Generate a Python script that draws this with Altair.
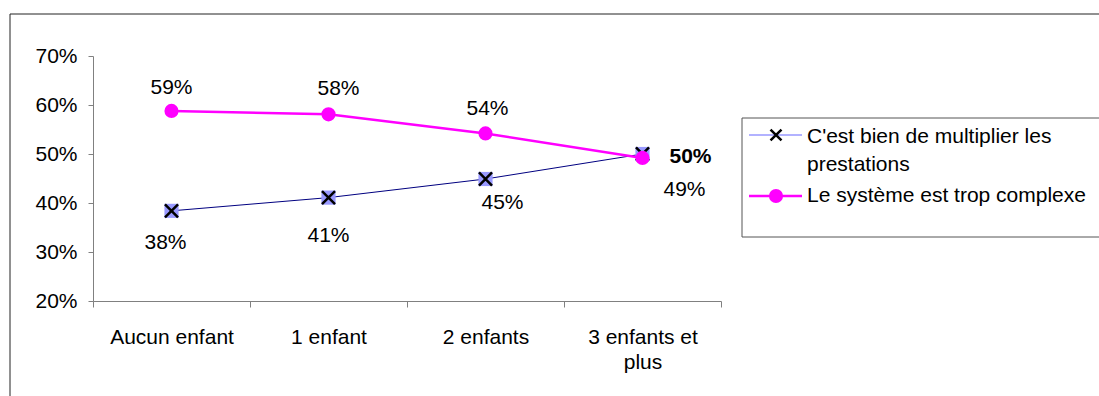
import altair as alt
import pandas as pd

# Categories and survey shares
categories = ["Aucun enfant", "1 enfant", "2 enfants", "3 enfants et plus"]
bien = [0.384, 0.411, 0.449, 0.500]
complexe = [0.588, 0.581, 0.542, 0.492]
series_names = ["C'est bien de multiplier les prestations", "Le système est trop complexe"]
legend_lines = [["C'est bien de multiplier les", "prestations"], ["Le système est trop complexe"]]
y_ticks = [0.2, 0.3, 0.4, 0.5, 0.6, 0.7]

FONT = "Liberation Sans"
FS = 21
BLUE_LINE = "#000080"
BLUE_FILL = "#9999FF"
PINK = "#FF00FF"
X_PATH = "M-1,-1L1,1M-1,1L1,-1"

df_bien = pd.DataFrame({"cat": categories, "val": bien})
df_comp = pd.DataFrame({"cat": categories, "val": complexe})

x_enc = alt.X(
    "cat:N",
    sort=categories,
    scale=alt.Scale(type="band", paddingInner=0, paddingOuter=0),
    axis=alt.Axis(
        title=None,
        tickBand="extent",
        tickSize=6,
        labelPadding=19,
        labelAngle=0,
        labelFontSize=FS,
        labelFont=FONT,
        labelColor="black",
        labelLineHeight=25,
        labelExpr="datum.value == '3 enfants et plus' ? ['3 enfants et', 'plus'] : datum.value",
        domainColor="#808080",
        tickColor="#808080",
        grid=False,
    ),
)
y_enc = alt.Y(
    "val:Q",
    scale=alt.Scale(domain=[0.2, 0.7], nice=False, zero=False),
    axis=alt.Axis(
        title=None,
        values=y_ticks,
        format=".0%",
        tickSize=5,
        labelPadding=11,
        labelFontSize=FS,
        labelFont=FONT,
        labelColor="black",
        domainColor="#808080",
        tickColor="#808080",
        grid=False,
    ),
)

base_b = alt.Chart(df_bien).encode(x=x_enc, y=y_enc)
base_c = alt.Chart(df_comp).encode(x=x_enc, y=y_enc)

line_b = base_b.mark_line(color=BLUE_LINE, strokeWidth=1)
sq_b = base_b.mark_point(shape="square", filled=True, color=BLUE_FILL, size=200, opacity=1)
x_b = base_b.mark_point(shape=X_PATH, filled=False, color="black", strokeWidth=2.5, size=170, opacity=1)

line_c = base_c.mark_line(color=PINK, strokeWidth=2.5)
pt_c = base_c.mark_point(shape="circle", filled=True, color=PINK, size=200, opacity=1)


def value_label(base, cat, dx, dy, bold=False):
    return base.transform_filter(alt.datum.cat == cat).mark_text(
        font=FONT, fontSize=FS, color="black", dx=dx, dy=dy,
        fontWeight="bold" if bold else "normal",
    ).encode(text=alt.Text("val:Q", format=".0%"))


labels = [
    value_label(base_b, "Aucun enfant", -6, 32),
    value_label(base_b, "1 enfant", 0, 38),
    value_label(base_b, "2 enfants", 17, 24),
    value_label(base_b, "3 enfants et plus", 48, 3, bold=True),
    value_label(base_c, "Aucun enfant", 0, -23),
    value_label(base_c, "1 enfant", 10, -25),
    value_label(base_c, "2 enfants", 2, -24),
    value_label(base_c, "3 enfants et plus", 42, 32),
]

one = pd.DataFrame({"k": [0]})

# Outer frame around the whole figure
frame = alt.Chart(one).mark_rect(fill="transparent", stroke="#222222", strokeWidth=1).encode(
    x=alt.value(-83), x2=alt.value(1200), y=alt.value(-42), y2=alt.value(600)
)

# Legend box and entries
leg_box = alt.Chart(one).mark_rect(fill="white", stroke="#555555", strokeWidth=1).encode(
    x=alt.value(649), x2=alt.value(1020), y=alt.value(62), y2=alt.value(181)
)
leg_line_b = alt.Chart(one).mark_rule(color=BLUE_FILL, strokeWidth=1.5).encode(
    x=alt.value(656), x2=alt.value(709), y=alt.value(79)
)
leg_x_b = alt.Chart(one).mark_point(shape=X_PATH, filled=False, color="black", strokeWidth=2.5, size=120, opacity=1).encode(
    x=alt.value(683), y=alt.value(79)
)
leg_line_c = alt.Chart(one).mark_rule(color=PINK, strokeWidth=2.5).encode(
    x=alt.value(656), x2=alt.value(709), y=alt.value(140)
)
leg_pt_c = alt.Chart(one).mark_point(shape="circle", filled=True, color=PINK, size=200, opacity=1).encode(
    x=alt.value(683), y=alt.value(140)
)
leg_df = pd.DataFrame({"t": [legend_lines[0][0], legend_lines[0][1], legend_lines[1][0]],
                       "yy": [81, 109, 140]})
leg_text = alt.Chart(leg_df).mark_text(font=FONT, fontSize=FS, color="black", align="left", baseline="middle").encode(
    x=alt.value(714), y=alt.Y("yy:Q", scale=None), text="t:N"
)

chart = alt.layer(
    frame, line_b, sq_b, x_b, line_c, pt_c, *labels,
    leg_box, leg_line_b, leg_x_b, leg_line_c, leg_pt_c, leg_text,
).properties(
    width=628,
    height=245,
    padding={"left": 93, "top": 56, "right": 378, "bottom": 95},
    autosize=alt.AutoSizeParams(type="none"),
    background="white",
).configure_view(stroke=None)

chart.save("out.html", embed_options={"renderer": "svg", "actions": False})
